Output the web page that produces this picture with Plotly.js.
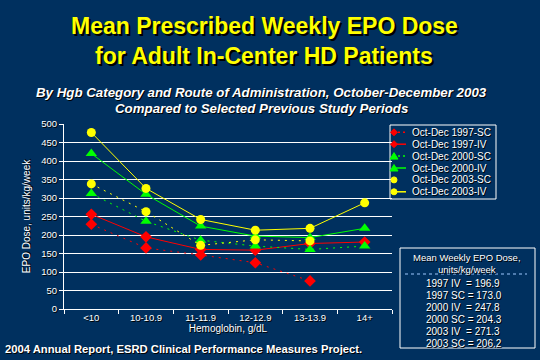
<!DOCTYPE html>
<html>
<head>
<meta charset="utf-8">
<script src="https://cdn.plot.ly/plotly-3.0.1.min.js"></script>
<style>html,body{margin:0;padding:0;background:#00305F;}#chart{width:540px;height:360px;}</style>
</head>
<body>
<div id="chart"></div>
<script>
const categories = ["<10", "10-10.9", "11-11.9", "12-12.9", "13-13.9", "14+"];
const sc1997 = [229, 165, 146, 125, 76, null];
const iv1997 = [256, 195, 161, 159, 177, 181];
const sc2000 = [312, 237, 186, 170, 161, 170];
const iv2000 = [420, 310, 224, 197, 193, 218];
const sc2003 = [338, 263, 172, 187, 184, null];
const iv2003 = [477, 326, 242, 213, 218, 287];
const seriesNames = ["Oct-Dec 1997-SC", "Oct-Dec 1997-IV", "Oct-Dec 2000-SC", "Oct-Dec 2000-IV", "Oct-Dec 2003-SC", "Oct-Dec 2003-IV"];
const summaryHeader = ["Mean Weekly EPO Dose,", "units/kg/week"];
const summaryLabels = ["1997 IV  = 196.9", "1997 SC = 173.0", "2000 IV  = 247.8", "2000 SC = 204.3", "2003 IV  = 271.3", "2003 SC = 206.2"];

const RED = "#FF0000", GREEN = "#00FF00", YEL = "#FFFF00";
const W = "#FFFFFF";
const FONT = "Liberation Sans, Arial, sans-serif";
const shadow = "1px 1px 0px #000000";
const PL = 64, PR = 392, PT = 124, PB = 309;
const SPARSE = "2px,5px";
function px(x){ return (x - PL) / (PR - PL); }
function py(y){ return (PB - y) / (PB - PT); }

const styles = [
  {color: RED, dash: SPARSE, symbol: "diamond", size: 9},
  {color: RED, dash: "solid", symbol: "diamond", size: 9},
  {color: GREEN, dash: SPARSE, symbol: "triangle-up", size: 10},
  {color: GREEN, dash: "solid", symbol: "triangle-up", size: 10},
  {color: YEL, dash: SPARSE, symbol: "circle", size: 9},
  {color: YEL, dash: "solid", symbol: "circle", size: 9}
];
const series = [sc1997, iv1997, sc2000, iv2000, sc2003, iv2003];
const data = series.map((y, i) => ({
  x: categories, y: y, name: seriesNames[i], type: "scatter", mode: "lines+markers",
  line: {color: styles[i].color, width: 1, dash: styles[i].dash},
  marker: {color: styles[i].color, symbol: styles[i].symbol, size: styles[i].size},
  connectgaps: false, showlegend: false
}));

const annotations = [];
function ann(text, x, y, size, color, anchor, sh) {
  annotations.push({text: text, xref: "paper", yref: "paper", x: px(x), y: py(y), xanchor: anchor || "center", yanchor: "middle",
    showarrow: false, font: {family: FONT, size: size, color: color, shadow: sh || shadow}});
}
ann("<b>Mean Prescribed Weekly EPO Dose</b>", 264, 26, 23, YEL, "center", "2px 2px 0px #000000");
ann("<b>for Adult In-Center HD Patients</b>", 264, 56, 23, YEL, "center", "2px 2px 0px #000000");
ann("<b><i>By Hgb Category and Route of Administration, October-December 2003</i></b>", 261, 92, 13.3);
ann("<b><i>Compared to Selected Previous Study Periods</i></b>", 261, 108, 13.3);
ann("<b>2004 Annual Report, ESRD Clinical Performance Measures Project.</b>", 3, 349, 11.25, W, "left");
ann(summaryHeader[0], 467, 257, 9.5, W);
ann(summaryHeader[1], 467, 269, 9.5, W);
const rowY = [283, 295, 307.5, 319.5, 331.5, 343.5];
summaryLabels.forEach((t, i) => ann(t.replace(/  /g, " &nbsp;"), 424, rowY[i], 10, W, "left"));

const shapes = [
  {type: "rect", xref: "paper", yref: "paper", x0: px(400), x1: px(535), y0: py(348), y1: py(248), line: {color: W, width: 1}},
  {type: "line", xref: "paper", yref: "paper", x0: px(405), x1: px(527), y0: py(274), y1: py(274), line: {color: "#9EC8FF", width: 1, dash: "dot"}},
  {type: "rect", xref: "paper", yref: "paper", x0: px(390), x1: px(496), y0: py(199), y1: py(125), line: {color: W, width: 1}}
];
// custom compact legend
function pathOf(pts) { return "M" + pts.map(p => px(p[0]) + "," + py(p[1])).join(" L") + " Z"; }
seriesNames.forEach((name, i) => {
  const st = styles[i];
  const cy = 132.3 + i * 11.9, cx = 394;
  const dotted = st.dash !== "solid";
  if (!(dotted && st.color === YEL)) {
    shapes.push({type: "line", xref: "paper", yref: "paper", x0: px(dotted ? 398 : cx), x1: px(406), y0: py(cy), y1: py(cy),
      line: {color: st.color, width: 1.5, dash: dotted ? "2px,3px" : "solid"}});
  }
  let pts;
  if (st.symbol === "diamond") pts = [[cx, cy - 3.5], [cx + 3.5, cy], [cx, cy + 3.5], [cx - 3.5, cy]];
  else if (st.symbol === "triangle-up") pts = [[cx, cy - 3.5], [cx + 4, cy + 3], [cx - 4, cy + 3]];
  if (pts) shapes.push({type: "path", xref: "paper", yref: "paper", path: pathOf(pts), fillcolor: st.color, line: {color: st.color, width: 1}});
  else shapes.push({type: "circle", xref: "paper", yref: "paper", x0: px(cx - 3), x1: px(cx + 3), y0: py(cy + 3), y1: py(cy - 3), fillcolor: st.color, line: {color: st.color, width: 1}});
  ann(name, 410, cy, 10, W, "left");
});

const layout = {
  width: 540, height: 360,
  paper_bgcolor: "#00305F", plot_bgcolor: "#00305F",
  margin: {l: PL, r: 540 - PR, t: PT, b: 360 - PB, pad: 0},
  font: {family: FONT, color: W, size: 9.5},
  showlegend: false,
  xaxis: {type: "category", range: [-0.5, 5.5], showgrid: false, showline: true, linecolor: W, linewidth: 1,
    ticks: "outside", tickson: "boundaries", ticklen: 4, tickcolor: W, tickfont: {size: 9.5, color: W, shadow: shadow},
    title: {text: "Hemoglobin, g/dL", font: {size: 10, color: W, shadow: shadow}, standoff: 2}, fixedrange: true},
  yaxis: {range: [0, 500], dtick: 50, showgrid: true, gridcolor: W, gridwidth: 1, zeroline: true, zerolinecolor: W,
    showline: true, linecolor: W, ticks: "outside", ticklen: 4, tickcolor: W, tickfont: {size: 9.5, color: W, shadow: shadow},
    title: {text: "EPO Dose, units/kg/week", font: {size: 10, color: W, shadow: shadow}, standoff: 8}, fixedrange: true},
  shapes: shapes,
  annotations: annotations
};
Plotly.newPlot("chart", data, layout, {displayModeBar: false, staticPlot: true});
</script>
</body>
</html>
